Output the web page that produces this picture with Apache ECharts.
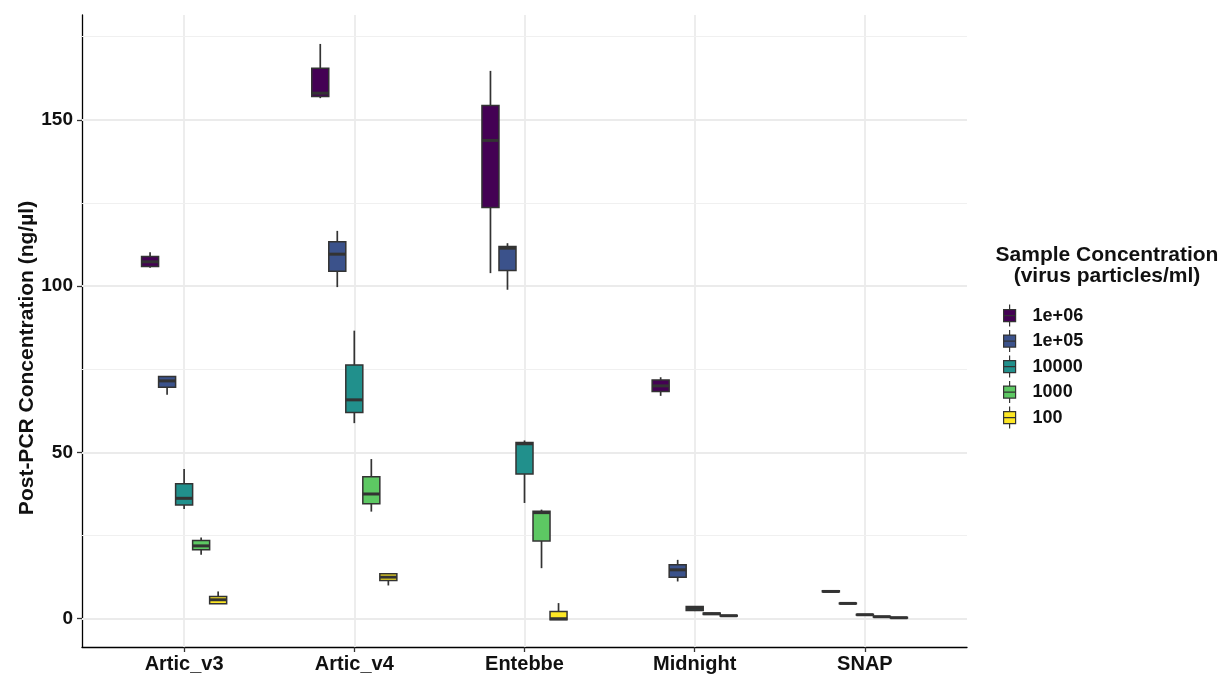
<!DOCTYPE html>
<html><head><meta charset="utf-8">
<script src="https://cdn.jsdelivr.net/npm/echarts@6/dist/echarts.min.js"></script>
<style>html,body{margin:0;padding:0;background:#fff}#c{width:1224px;height:677px}</style>
</head><body><div id="c"></div>
<script>
const categories = ['Artic_v3', 'Artic_v4', 'Entebbe', 'Midnight', 'SNAP'];
const concentrations = ['1e+06', '1e+05', '10000', '1000', '100'];
const colors = ['#440154', '#3B528B', '#21908C', '#5DC863', '#FDE725'];
const yTicks = [0, 50, 100, 150];
const yMinorGrid = [25, 75, 125, 175];
const xTicks = [1, 2, 3, 4, 5];

// each row: [min, Q1, median, Q3, max], one row per category
const box_1e06 = [
  [105.5, 105.9, 107.3, 108.9, 110.2],
  [156.5, 157.0, 158.0, 165.5, 172.8],
  [103.9, 123.6, 143.8, 154.3, 164.7],
  [67.0, 68.3, 70.0, 71.8, 72.6],
  [8.0, 8.1, 8.2, 8.4, 8.5]
];
const box_1e05 = [
  [67.3, 69.6, 71.5, 72.8, 72.8],
  [99.7, 104.5, 109.6, 113.3, 116.6],
  [98.9, 104.7, 111.4, 111.9, 112.9],
  [11.2, 12.5, 14.7, 16.2, 17.7],
  [4.4, 4.5, 4.6, 4.7, 4.8]
];
const box_10000 = [
  [33.0, 34.2, 36.2, 40.6, 45.0],
  [58.8, 62.0, 65.8, 76.3, 86.6],
  [34.8, 43.5, 52.6, 53.0, 53.6],
  [2.3, 2.5, 3.1, 3.7, 3.8],
  [1.0, 1.1, 1.2, 1.3, 1.4]
];
const box_1000 = [
  [19.2, 20.7, 21.9, 23.5, 24.4],
  [32.2, 34.6, 37.5, 42.7, 48.0],
  [15.2, 23.4, 31.9, 32.3, 32.8],
  [1.2, 1.3, 1.5, 1.7, 1.8],
  [0.4, 0.5, 0.6, 0.7, 0.8]
];
const box_100 = [
  [4.5, 4.5, 5.7, 6.7, 8.2],
  [10.0, 11.5, 12.5, 13.5, 13.5],
  [-0.3, -0.3, 0.0, 2.2, 4.7],
  [0.7, 0.8, 0.9, 1.0, 1.1],
  [0.1, 0.2, 0.3, 0.4, 0.5]
];
const allBoxes = [box_1e06, box_1e05, box_10000, box_1000, box_100];

const FONT = "'Liberation Sans', Arial, Helvetica, sans-serif";
const dodgeWidth = 0.1;
const STROKE = '#333333';

function makeRender(offset, color) {
  return function (params, api) {
    const x = api.value(0) + offset;
    const lo = api.coord([x, api.value(1)]);
    const q1 = api.coord([x, api.value(2)]);
    const md = api.coord([x, api.value(3)]);
    const q3 = api.coord([x, api.value(4)]);
    const hi = api.coord([x, api.value(5)]);
    const w = api.size([dodgeWidth, 0])[0];
    return {
      type: 'group',
      children: [
        { type: 'line', shape: { x1: hi[0], y1: hi[1], x2: q3[0], y2: q3[1] }, style: { stroke: STROKE, lineWidth: 1.7 } },
        { type: 'line', shape: { x1: q1[0], y1: q1[1], x2: lo[0], y2: lo[1] }, style: { stroke: STROKE, lineWidth: 1.7 } },
        { type: 'rect', shape: { x: q3[0] - w / 2, y: q3[1], width: w, height: Math.max(q1[1] - q3[1], 0) }, style: { fill: color, stroke: STROKE, lineWidth: 1.5 } },
        { type: 'line', shape: { x1: md[0] - w / 2, y1: md[1], x2: md[0] + w / 2, y2: md[1] }, style: { stroke: STROKE, lineWidth: 3 } }
      ]
    };
  };
}

const boxSeries = concentrations.map((name, k) => ({
  name: name,
  type: 'custom',
  z: 3,
  itemStyle: { color: colors[k] },
  renderItem: makeRender((k - 2) * dodgeWidth, colors[k]),
  encode: { x: 0, y: [1, 2, 3, 4, 5] },
  data: allBoxes[k].map((r, i) => [i + 1].concat(r))
}));

const gridSeries = {
  type: 'line',
  data: [],
  silent: true,
  z: 1,
  markLine: {
    silent: true,
    z: 1,
    animation: false,
    symbol: ['none', 'none'],
    label: { show: false },
    lineStyle: { color: '#ebebeb', width: 1.8, type: 'solid' },
    data: yTicks.map(v => ({ yAxis: v }))
      .concat(xTicks.map(v => ({ xAxis: v })))
      .concat(yMinorGrid.map(v => ({ yAxis: v, lineStyle: { color: '#f0f0f0', width: 1, type: 'solid' } })))
  }
};

const chart = echarts.init(document.getElementById('c'), null, { renderer: 'canvas' });
chart.setOption({
  animation: false,
  backgroundColor: '#ffffff',
  grid: { left: 82, right: 257, top: 15, bottom: 30 },
  xAxis: {
    type: 'value', min: 0.4, max: 5.6,
    axisLine: { show: true, onZero: false, lineStyle: { color: '#000', width: 1.3 } },
    axisTick: { show: true, length: 5, customValues: xTicks, lineStyle: { color: '#333', width: 1.3 } },
    axisLabel: {
      customValues: xTicks, margin: 7,
      formatter: v => categories[Math.round(v) - 1],
      fontFamily: FONT, fontWeight: 'bold', fontSize: 20, color: '#111'
    },
    splitLine: { show: false }
  },
  yAxis: {
    type: 'value', min: -8.5, max: 181.5,
    axisLine: { show: true, onZero: false, lineStyle: { color: '#000', width: 1.3 } },
    axisTick: { show: true, length: 5, customValues: yTicks, lineStyle: { color: '#333', width: 1.3 } },
    axisLabel: { customValues: yTicks, margin: 9, fontFamily: FONT, fontWeight: 'bold', fontSize: 19, color: '#111' },
    splitLine: { show: false }
  },
  legend: {
    data: concentrations,
    orient: 'vertical',
    left: 998, top: 299,
    itemWidth: 12, itemHeight: 22, itemGap: 2.3,
    icon: 'path://M9 0L9 5M3 5L15 5L15 17L3 17ZM3 11L15 11M9 17L9 22',
    itemStyle: { borderColor: '#333', borderWidth: 1.2 },
    textStyle: { fontFamily: FONT, fontWeight: 'bold', fontSize: 18, color: '#111', padding: [0, 0, 0, 12] },
    selectedMode: false
  },
  graphic: [
    {
      type: 'text', x: 27, y: 358, rotation: Math.PI / 2,
      style: { text: 'Post-PCR Concentration (ng/µl)', font: 'bold 21px ' + FONT, fill: '#111', align: 'center', verticalAlign: 'middle' }
    },
    {
      type: 'text', x: 1107, y: 266,
      style: { text: 'Sample Concentration\n(virus particles/ml)', font: 'bold 21px ' + FONT, fill: '#111', align: 'center', verticalAlign: 'middle', lineHeight: 21 }
    }
  ],
  series: [gridSeries].concat(boxSeries)
});
</script>
</body></html>
